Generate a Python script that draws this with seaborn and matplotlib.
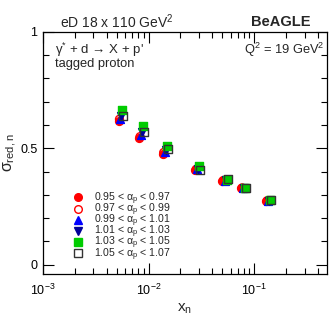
import numpy as np
import matplotlib
matplotlib.use("Agg")
import matplotlib.pyplot as plt
import seaborn as sns
from matplotlib.lines import Line2D
from matplotlib.ticker import LogLocator, MultipleLocator, NullFormatter

# --- Data ---
labels = [r"0.95 < $\alpha_{\rm p}$ < 0.97",
          r"0.97 < $\alpha_{\rm p}$ < 0.99",
          r"0.99 < $\alpha_{\rm p}$ < 1.01",
          r"1.01 < $\alpha_{\rm p}$ < 1.03",
          r"1.03 < $\alpha_{\rm p}$ < 1.05",
          r"1.05 < $\alpha_{\rm p}$ < 1.07"]

x_s0 = [0.0052, 0.0081, 0.0136, 0.0277, 0.0499, 0.0753, 0.130]
x_s1 = [0.0053, 0.0083, 0.0139, 0.0283, 0.0511, 0.0770, 0.133]
x_s2 = [0.0054, 0.0085, 0.0143, 0.0290, 0.0524, 0.0787, 0.135]
x_s3 = [0.0055, 0.0087, 0.0146, 0.0296, 0.0537, 0.0805, 0.138]
x_s4 = [0.0056, 0.0089, 0.0150, 0.0302, 0.0551, 0.0823, 0.141]
x_s5 = [0.0057, 0.0091, 0.0154, 0.0308, 0.0565, 0.0841, 0.144]

y_s0 = [0.618, 0.545, 0.476, 0.408, 0.360, 0.330, 0.275]
y_s1 = [0.625, 0.550, 0.482, 0.410, 0.362, 0.330, 0.275]
y_s2 = [0.628, 0.556, 0.485, 0.410, 0.360, 0.328, 0.274]
y_s3 = [0.640, 0.570, 0.492, 0.412, 0.362, 0.328, 0.275]
y_s4 = [0.665, 0.597, 0.510, 0.425, 0.365, 0.328, 0.276]
y_s5 = [0.640, 0.571, 0.498, 0.405, 0.368, 0.330, 0.277]

xs = [x_s0, x_s1, x_s2, x_s3, x_s4, x_s5]
ys = [y_s0, y_s1, y_s2, y_s3, y_s4, y_s5]

# marker, face, edge
styles = [("o", "#ff0000", "#ff0000"),
          ("o", "none", "#ff0000"),
          ("^", "#0000ff", "#0000ff"),
          ("v", "#000099", "#000099"),
          ("s", "#00cc00", "#00cc00"),
          ("s", "none", "#333333")]

sns.set_style("ticks")
plt.rcParams['font.family'] = ['Liberation Sans', 'DejaVu Sans']
plt.rcParams['mathtext.fontset'] = 'custom'
plt.rcParams['mathtext.rm'] = 'Liberation Sans'
plt.rcParams['mathtext.it'] = 'Liberation Sans'

fig = plt.figure(figsize=(3.32, 3.19), dpi=100)
ax = fig.add_axes([0.1295, 0.141, 0.8555, 0.759])

for x, y, (m, fc, ec) in zip(xs, ys, styles):
    sns.scatterplot(x=x, y=y, ax=ax, marker=m, s=32, facecolor=fc,
                    edgecolor=ec, linewidth=1.0, zorder=3)

ax.set_xscale("log")
ax.set_xlim(1e-3, 0.49)
ax.set_ylim(-0.04, 1.0)

ax.xaxis.set_major_locator(LogLocator(base=10, numticks=10))
ax.xaxis.set_minor_locator(LogLocator(base=10, subs=np.arange(2, 10), numticks=10))
ax.xaxis.set_minor_formatter(NullFormatter())
ax.yaxis.set_major_locator(MultipleLocator(0.5))
ax.yaxis.set_minor_locator(MultipleLocator(0.1))
ax.yaxis.set_major_formatter(plt.FuncFormatter(lambda v, p: "%g" % v))

ax.tick_params(which="both", direction="in", top=True, right=True,
               labelsize=9, width=0.8, colors="black")
ax.tick_params(which="major", length=8, pad=4)
ax.tick_params(which="minor", length=4)
ax.tick_params(axis="x", which="major", pad=6)
for sp in ax.spines.values():
    sp.set_linewidth(0.9)
    sp.set_color("black")

ax.set_xlabel(r"x$_{\rm n}$", fontsize=11, labelpad=3)
ax.set_ylabel(r"$\sigma_{\rm red,n}$", fontsize=11.5, labelpad=1)

handles = [Line2D([], [], linestyle="none", marker=m, markersize=5.5,
                  markerfacecolor=fc, markeredgecolor=ec, markeredgewidth=1.0)
           for (m, fc, ec) in styles]
ax.legend(handles, labels, loc="lower left", bbox_to_anchor=(0.09, 0.03),
          frameon=False, fontsize=7.6, handletextpad=1.0, labelspacing=-0.5,
          handlelength=1.0, borderaxespad=0)

fig.text(60 / 332, 1 - 22 / 319, r"eD 18 x 110 GeV$^2$", fontsize=10,
         ha="left", va="center")
fig.text(310 / 332, 1 - 22 / 319, "BeAGLE", fontsize=10.5, fontweight="bold",
         ha="right", va="center")
fig.text(55 / 332, 1 - 50 / 319, "γ$^{*}$ + d → X + p'",
         fontsize=9.5, ha="left", va="center")
fig.text(55 / 332, 1 - 64 / 319, "tagged proton", fontsize=9.3,
         ha="left", va="center")
fig.text(325 / 332, 1 - 50 / 319, r"Q$^2$ = 19 GeV$^2$", fontsize=9.3,
         ha="right", va="center")

fig.savefig("out.png", dpi=100)
